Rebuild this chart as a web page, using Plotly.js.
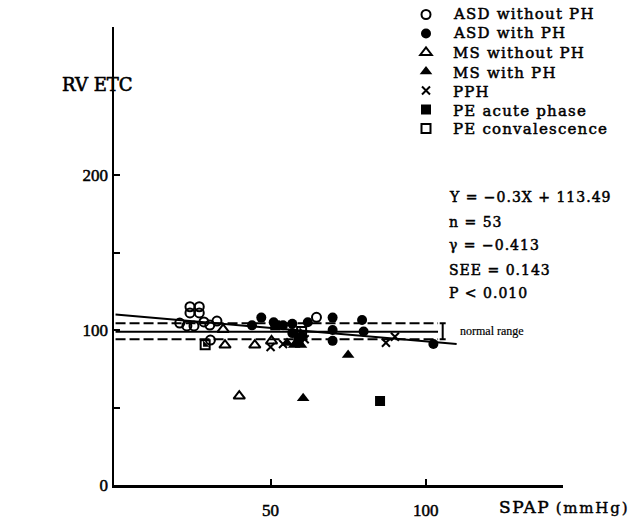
<!DOCTYPE html>
<html>
<head>
<meta charset="utf-8">
<script src="https://cdn.plot.ly/plotly-3.0.1.min.js"></script>
<style>html,body{margin:0;padding:0;background:#fff;}#chart{width:635px;height:521px;}</style>
</head>
<body>
<div id="chart"></div>
<script>
// ---- data ----
var seriesNames = ["ASD without PH", "ASD with PH", "MS without PH", "MS with PH", "PPH", "PE acute phase", "PE convalescence"];
var asdNoX = [24, 24, 27, 27, 20.7, 23, 25.3, 28.5, 30.4, 32.7, 30.6, 64.8];
var asdNoY = [115, 111, 115, 111, 104.5, 102.6, 102.6, 105.2, 103.2, 105.8, 93.5, 108.2];
var asdPhX = [47, 44, 51, 54, 57, 62, 70, 70, 70, 79.5, 80, 102.5, 57, 60];
var asdPhY = [108, 103, 105, 103, 104, 105, 108, 100, 93, 106.5, 99, 91, 98, 96];
var msNoX = [34.7, 35.3, 44.9, 50.3, 39.9];
var msNoY = [100.4, 90.3, 90.3, 92.9, 57.4];
var msPhX = [60.5, 75, 55.3, 57.6, 59.8];
var msPhY = [55.9, 83.9, 91.6, 90.3, 90.3];
var pphX = [50, 54, 61, 87.2, 90.1];
var pphY = [89, 91, 94, 91.8, 95.7];
var peAcuteX = [85.3, 51.5, 59];
var peAcuteY = [54.2, 103, 94];
var peConvX = [28.9, 60];
var peConvY = [90.5, 99];

var regX = [0, 110];
var regY = [110, 91];
var normX = [0, 104];
var normUpper = 104.3;
var normMid = 98.9;
var normLower = 94;
var bracketX = 105.5;

var xTicks = [50, 100];
var xTickText = ["50", "100"];
var yTicks = [0, 50, 100, 150, 200];
var yTickText = ["0", "", "100", "", "200"];

var statLines = ["Y = −0.3X + 113.49", "n = 53", "γ = −0.413", "SEE = 0.143", "P < 0.010"];

var serif = "Liberation Serif, DejaVu Serif, serif";
var wide = "DejaVu Serif, Liberation Serif, serif";

function hline(yv, dash) {
  return {x: normX, y: [yv, yv], mode: "lines", showlegend: false, hoverinfo: "skip",
          line: {color: "black", width: 2, dash: dash}};
}

var traces = [
  {x: regX, y: regY, mode: "lines", showlegend: false, line: {color: "black", width: 2}},
  hline(normUpper, "10px,4px"),
  hline(normMid, "solid"),
  hline(normLower, "10px,4px"),
  {x: [bracketX], y: [(normUpper + normLower) / 2], mode: "markers", showlegend: false,
   marker: {size: 1, color: "rgba(0,0,0,0)"},
   error_y: {type: "data", array: [(normUpper - normLower) / 2], color: "black", thickness: 2, width: 3}},
  {name: " ", x: asdNoX, y: asdNoY, mode: "markers",
   marker: {symbol: "circle-open", size: 9, color: "black", line: {width: 2, color: "black"}}},
  {name: " ", x: asdPhX, y: asdPhY, mode: "markers",
   marker: {symbol: "circle", size: 10, color: "black"}},
  {name: " ", x: msNoX, y: msNoY, mode: "markers",
   marker: {symbol: "triangle-up-open", size: 10, color: "black", line: {width: 2, color: "black"}}},
  {name: " ", x: msPhX, y: msPhY, mode: "markers",
   marker: {symbol: "triangle-up", size: 11, color: "black"}},
  {name: " ", x: pphX, y: pphY, mode: "markers",
   marker: {symbol: "x-thin-open", size: 8, color: "black", line: {width: 2, color: "black"}}},
  {name: " ", x: peAcuteX, y: peAcuteY, mode: "markers",
   marker: {symbol: "square", size: 10, color: "black"}},
  {name: " ", x: peConvX, y: peConvY, mode: "markers",
   marker: {symbol: "square-open", size: 9, color: "black", line: {width: 2, color: "black"}}},
  {x: peConvX, y: peConvY, mode: "markers", showlegend: false,
   marker: {symbol: "triangle-sw", size: 7, color: "black"}}
];

function px(p) { return (p - 114) / 449; }
function py(p) { return (485 - p) / 458; }
function ann(text, x, y, size, fam) {
  return {text: text, xref: "paper", yref: "paper", x: px(x), y: py(y),
          xanchor: "left", yanchor: "middle", showarrow: false,
          font: {family: fam || serif, size: size, color: "black"}};
}
function heavy(t, ls, sw) {
  return "<span style='letter-spacing:" + ls + "px;stroke:black;stroke-width:" + sw + "px'>" + t + "</span>";
}

var annotations = [
  ann(heavy("RV ETC", 0, 0.6), 60, 85, 18, wide),
  ann(heavy("SPAP", 1.5, 0.5) + " <span style='font-size:15px;letter-spacing:1.8px;stroke:black;stroke-width:0.4px'>(mmHg)</span>", 497, 507, 17, wide),
  ann(heavy("normal range", 0, 0.2), 458, 331, 12)
];
var legendRows = [14, 33, 53, 73, 92, 111, 129];
seriesNames.forEach(function (n, i) {
  annotations.push(ann(heavy(n, 1.2, 0.5), 451, legendRows[i], 15, wide));
});
var statRows = [197, 222, 245, 270, 293];
statLines.forEach(function (s, i) {
  annotations.push(ann(heavy(s, 1, 0.5), 447, statRows[i], 14, wide));
});

var tickStyle = function (arr) { return arr.map(function (t) { return t ? heavy(t, 0, 0.5) : t; }); };

var layout = {
  width: 635, height: 521,
  margin: {l: 114, r: 72, t: 27, b: 36, autoexpand: false},
  paper_bgcolor: "white", plot_bgcolor: "white",
  font: {family: serif, color: "black"},
  xaxis: {range: [-0.5, 144.3], showgrid: false, zeroline: false,
          showline: true, linecolor: "black", linewidth: 2.5,
          ticks: "inside", ticklen: 6, tickwidth: 2, tickcolor: "black",
          tickvals: xTicks, ticktext: tickStyle(xTickText), ticklabelstandoff: 8,
          tickfont: {family: serif, size: 17, color: "black"}},
  yaxis: {range: [0, 295.5], showgrid: false, zeroline: false,
          showline: true, linecolor: "black", linewidth: 2.5,
          ticks: "inside", ticklen: 6, tickwidth: 2, tickcolor: "black",
          tickvals: yTicks, ticktext: tickStyle(yTickText),
          tickfont: {family: serif, size: 17, color: "black"}},
  showlegend: true,
  legend: {x: px(406), y: py(0), xanchor: "left", yanchor: "top",
           bgcolor: "rgba(0,0,0,0)", tracegroupgap: 0,
           font: {family: serif, size: 12, color: "black"}},
  annotations: annotations
};

Plotly.newPlot("chart", traces, layout, {displayModeBar: false, staticPlot: true});
</script>
</body>
</html>
